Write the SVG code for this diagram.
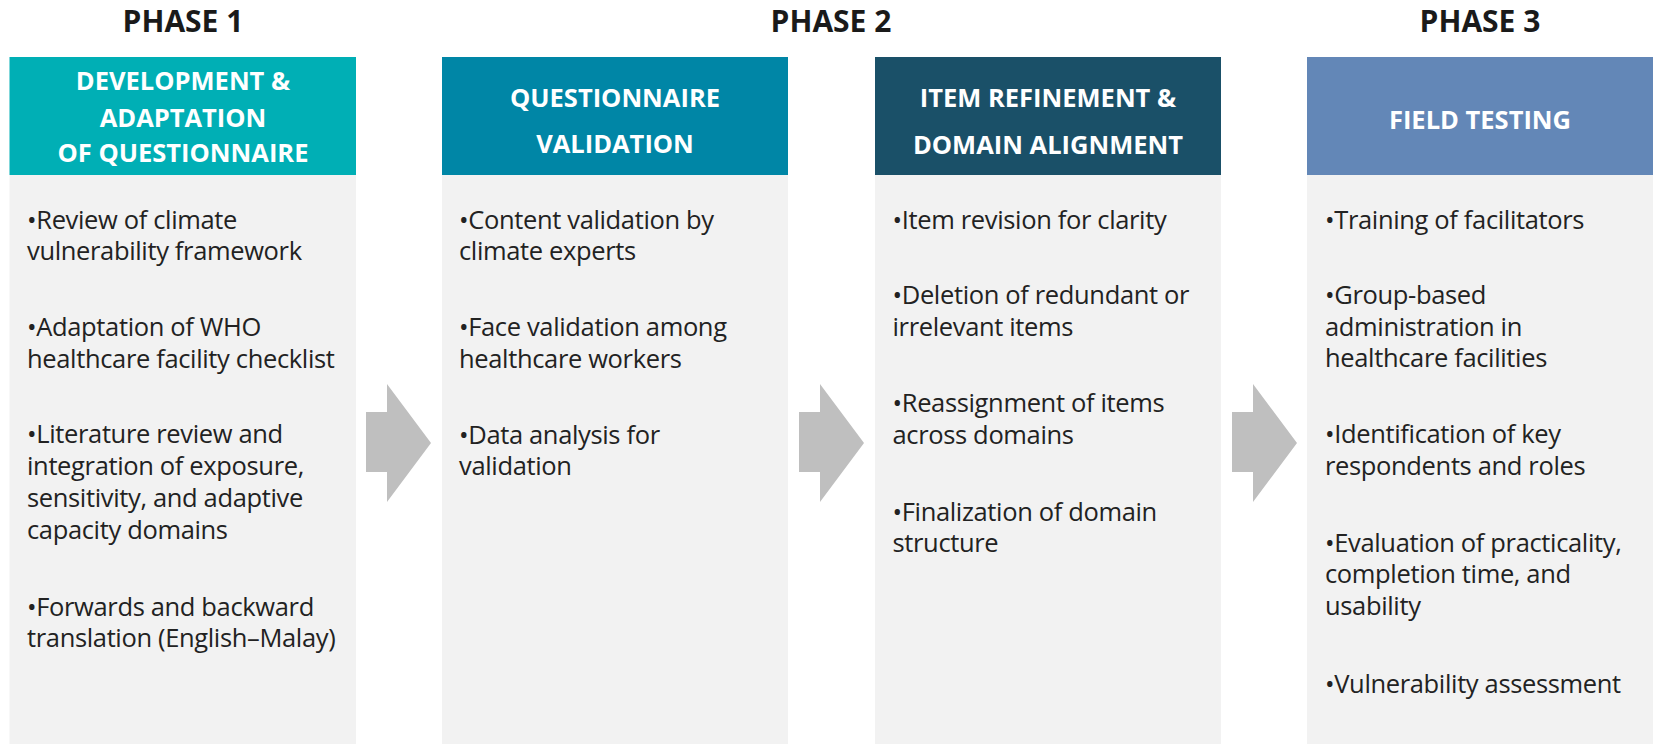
<svg xmlns="http://www.w3.org/2000/svg" width="1662" height="754" viewBox="0 0 1662 754">
<style>
.phase{font-family:"Open Sans","Liberation Sans",sans-serif;font-weight:700;font-size:30px;fill:#1a1a1a;text-anchor:middle}
.hd{font-family:"Open Sans","Liberation Sans",sans-serif;font-weight:700;font-size:25.5px;fill:#ffffff;text-anchor:middle}
.bd{font-family:"Open Sans","Liberation Sans",sans-serif;font-size:25.5px;fill:#222222;letter-spacing:-0.35px}
.body{fill:#f2f2f2}
.arrow{fill:#bfbfbf}
</style>
<rect x="0" y="0" width="1662" height="754" fill="#ffffff"/>
<g id="phase-titles">
<text class="phase" x="183" y="32">PHASE 1</text>
<text class="phase" x="831" y="32">PHASE 2</text>
<text class="phase" x="1480" y="32">PHASE 3</text>
</g>
<g id="node-development">
<rect class="body" x="9.5" y="175" width="346.5" height="569"/>
<rect x="9.5" y="57" width="346.5" height="118" fill="#00afb5"/>
<text class="hd" x="183" y="90">DEVELOPMENT &amp;</text>
<text class="hd" x="183" y="126.5">ADAPTATION</text>
<text class="hd" x="183" y="162">OF QUESTIONNAIRE</text>
<text class="bd" x="27" y="229">•Review of climate</text>
<text class="bd" x="27" y="260">vulnerability framework</text>
<text class="bd" x="27" y="336">•Adaptation of WHO</text>
<text class="bd" x="27" y="368">healthcare facility checklist</text>
<text class="bd" x="27" y="443">•Literature review and</text>
<text class="bd" x="27" y="475">integration of exposure,</text>
<text class="bd" x="27" y="507">sensitivity, and adaptive</text>
<text class="bd" x="27" y="539">capacity domains</text>
<text class="bd" x="27" y="616">•Forwards and backward</text>
<text class="bd" x="27" y="647">translation (English–Malay)</text>
</g>
<g id="node-validation">
<rect class="body" x="442" y="175" width="346" height="569"/>
<rect x="442" y="57" width="346" height="118" fill="#0086a6"/>
<text class="hd" x="615" y="107">QUESTIONNAIRE</text>
<text class="hd" x="615" y="153">VALIDATION</text>
<text class="bd" x="459" y="229">•Content validation by</text>
<text class="bd" x="459" y="260">climate experts</text>
<text class="bd" x="459" y="336">•Face validation among</text>
<text class="bd" x="459" y="368">healthcare workers</text>
<text class="bd" x="459" y="444">•Data analysis for</text>
<text class="bd" x="459" y="475">validation</text>
</g>
<g id="node-refinement">
<rect class="body" x="875" y="175" width="346" height="569"/>
<rect x="875" y="57" width="346" height="118" fill="#1a5068"/>
<text class="hd" x="1048" y="107">ITEM REFINEMENT &amp;</text>
<text class="hd" x="1048" y="154">DOMAIN ALIGNMENT</text>
<text class="bd" x="892.5" y="229">•Item revision for clarity</text>
<text class="bd" x="892.5" y="304">•Deletion of redundant or</text>
<text class="bd" x="892.5" y="336">irrelevant items</text>
<text class="bd" x="892.5" y="412">•Reassignment of items</text>
<text class="bd" x="892.5" y="444">across domains</text>
<text class="bd" x="892.5" y="521">•Finalization of domain</text>
<text class="bd" x="892.5" y="552">structure</text>
</g>
<g id="node-field-testing">
<rect class="body" x="1307" y="175" width="346" height="569"/>
<rect x="1307" y="57" width="346" height="118" fill="#6387b7"/>
<text class="hd" x="1480" y="129">FIELD TESTING</text>
<text class="bd" x="1325" y="229">•Training of facilitators</text>
<text class="bd" x="1325" y="304">•Group-based</text>
<text class="bd" x="1325" y="336">administration in</text>
<text class="bd" x="1325" y="367">healthcare facilities</text>
<text class="bd" x="1325" y="443">•Identification of key</text>
<text class="bd" x="1325" y="475">respondents and roles</text>
<text class="bd" x="1325" y="552">•Evaluation of practicality,</text>
<text class="bd" x="1325" y="583">completion time, and</text>
<text class="bd" x="1325" y="615">usability</text>
<text class="bd" x="1325" y="693">•Vulnerability assessment</text>
</g>
<g id="connectors">
<polygon class="arrow" points="366,412 387,412 387,384 431,443 387,502 387,472 366,472"/>
<polygon class="arrow" points="799,412 820,412 820,384 864,443 820,502 820,472 799,472"/>
<polygon class="arrow" points="1232,412 1253,412 1253,384 1297,443 1253,502 1253,472 1232,472"/>
</g>
</svg>
